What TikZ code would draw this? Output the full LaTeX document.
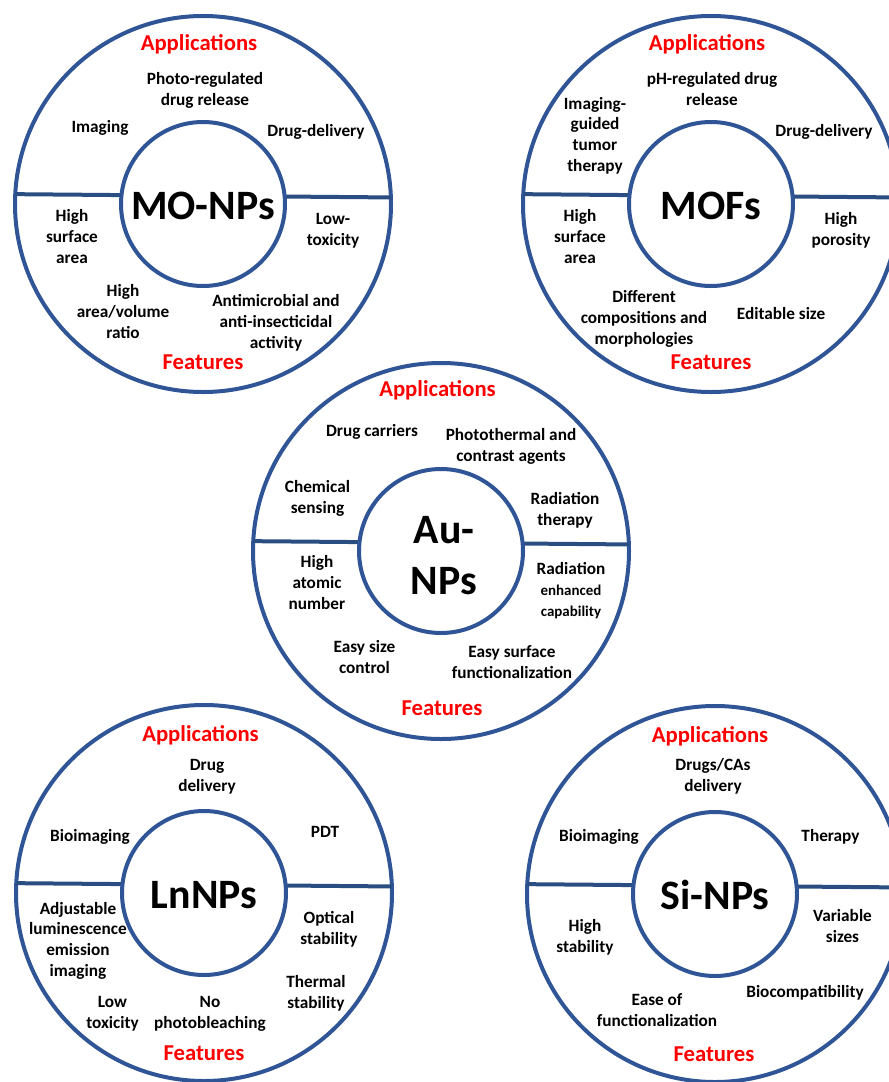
\documentclass[tikz,border=0pt]{standalone}
\usepackage{fontspec}
\setmainfont{Carlito}
\definecolor{ringblue}{HTML}{2F5597}
\definecolor{lineblue}{HTML}{2A4E82}
\definecolor{headred}{HTML}{FF0000}
\newcommand\smallfs{\fontsize{15}{19}\selectfont}
\tikzset{
  ring/.style={circle, draw=ringblue, line width=4bp, minimum size=376bp, inner sep=0pt, outer sep=0pt},
  coretext/.style={font=\fontsize{42}{51}\selectfont\bfseries, align=center, inner sep=0pt,
    execute at begin node={\rule{0pt}{46bp}}, execute at end node=\strut},
  core/.style={coretext, circle, draw=ringblue, line width=4bp, fill=white, minimum size=164bp, outer sep=0pt},
  divider/.style={draw=lineblue, line width=4bp},
  lbl/.style={font=\fontsize{17.3}{21}\selectfont\bfseries, align=center, inner sep=0pt, yshift=-2.5bp,
    execute at begin node=\strut, execute at end node=\strut},
  head/.style={lbl, font=\fontsize{22.8}{27}\selectfont\bfseries, text=headred},
}
\begin{document}
\begin{tikzpicture}[x=1bp, y=-1bp]
\useasboundingbox (0,0) rectangle (889,1082);
\clip (0,0) rectangle (889,1082);

% ---------- MO-NPs ----------
\node[ring] (oA) at (203,204) {};
\draw[divider] (oA.177.56) -- (oA.2.44);
\node[core] (iA) at (203,204) {MO-NPs};
\node[head] (aApp) at (199,43) {Applications};
\node[lbl] (a1) at (205,90) {Photo-regulated\\drug release};
\node[lbl] (a2) at (100,126) {Imaging};
\node[lbl] (a3) at (316,130) {Drug-delivery};
\node[lbl] (a4) at (72,237) {High\\surface\\area};
\node[lbl] (a5) at (333,230) {Low-\\toxicity};
\node[lbl] (a6) at (123,312) {High\\area/volume\\ratio};
\node[lbl] (a7) at (276,322) {Antimicrobial and\\anti-insecticidal\\activity};
\node[head] (aFeat) at (203,362) {Features};

% ---------- MOFs ----------
\node[ring] (oB) at (711,204) {};
\draw[divider] (oB.177.56) -- (oB.2.44);
\node[core] (iB) at (711,204) {MOFs};
\node[head] (bApp) at (707,43) {Applications};
\node[lbl] (b1) at (712,90) {pH-regulated drug\\release};
\node[lbl] (b2) at (595,135) {Imaging-\\guided\\tumor\\therapy};
\node[lbl] (b3) at (824,130) {Drug-delivery};
\node[lbl] (b4) at (580,237) {High\\surface\\area};
\node[lbl] (b5) at (841,230) {High\\porosity};
\node[lbl] (b6) at (644,318) {Different\\compositions and\\morphologies};
\node[lbl] (b7) at (781,313) {Editable size};
\node[head] (bFeat) at (711,362) {Features};

% ---------- Au-NPs ----------
\node[ring] (oC) at (441,551) {};
\draw[divider] (oC.177.56) -- (oC.2.44);
\node[core] (iC) at (441,551) {};
\node[coretext] (tC) at (444,563) {Au-\\NPs};
\node[head] (cApp) at (437.5,389) {Applications};
\node[lbl] (c1) at (372,430) {Drug carriers};
\node[lbl] (c2) at (511,446) {Photothermal and\\contrast agents};
\node[lbl] (c3) at (317.5,498) {Chemical\\sensing};
\node[lbl] (c4) at (565,510) {Radiation\\therapy};
\node[lbl] (c5) at (317,583) {High\\atomic\\number};
\node[lbl] (c6) at (571,590) {Radiation\\\smallfs enhanced\\\smallfs capability};
\node[lbl] (c7) at (364.5,658) {Easy size\\control};
\node[lbl] (c8) at (512,663) {Easy surface\\functionalization};
\node[head] (cFeat) at (442,708) {Features};

% ---------- LnNPs ----------
\node[ring] (oD) at (204,893) {};
\draw[divider] (oD.177.56) -- (oD.2.44);
\node[core] (iD) at (204,893) {LnNPs};
\node[head] (dApp) at (200.5,734) {Applications};
\node[lbl] (d1) at (207,776) {Drug\\delivery};
\node[lbl] (d2) at (90,835) {Bioimaging};
\node[lbl] (d3) at (325,831) {PDT};
\node[lbl] (d4) at (78,940) {Adjustable\\luminescence\\emission\\imaging};
\node[lbl] (d5) at (329,929) {Optical\\stability};
\node[lbl] (d6) at (316,993) {Thermal\\stability};
\node[lbl] (d7) at (112.5,1013) {Low\\toxicity};
\node[lbl] (d8) at (210,1013) {No\\photobleaching};
\node[head] (dFeat) at (204,1053) {Features};

% ---------- Si-NPs ----------
\node[ring] (oE) at (715,894) {};
\draw[divider] (oE.177.56) -- (oE.2.44);
\node[core] (iE) at (715,894) {Si-NPs};
\node[head] (eApp) at (710,735) {Applications};
\node[lbl] (e1) at (713,776) {Drugs/CAs\\delivery};
\node[lbl] (e2) at (599,835) {Bioimaging};
\node[lbl] (e3) at (830.5,835) {Therapy};
\node[lbl] (e4) at (585,937) {High\\stability};
\node[lbl] (e5) at (842.5,927) {Variable\\sizes};
\node[lbl] (e6) at (805,991) {Biocompatibility};
\node[lbl] (e7) at (657,1011) {Ease of\\functionalization};
\node[head] (eFeat) at (714,1054) {Features};
\end{tikzpicture}
\end{document}
